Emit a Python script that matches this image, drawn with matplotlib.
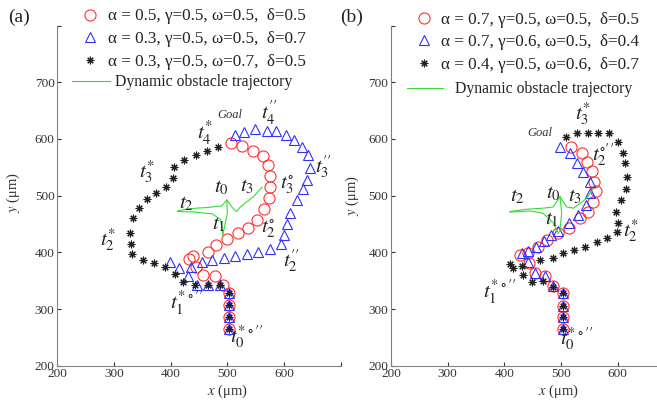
import matplotlib.pyplot as plt
import numpy as np

plt.rcParams['font.family'] = ['Liberation Serif', 'DejaVu Serif']
plt.rcParams['mathtext.fontset'] = 'stix'

# ---- panel (a) paths (um) ----
a_circ_x = [503, 503, 503, 503, 492, 478, 457, 445, 432, 439, 466, 480, 499, 519, 536,
            552, 565, 573, 575, 575, 572, 563, 545, 526, 506]
a_circ_y = [265, 286, 307, 328, 342, 358, 360, 374, 388, 394, 401, 413, 424, 434, 443,
            457, 476, 496, 515, 535, 554, 570, 579, 588, 593]
a_tri_x = [503, 503, 503, 503, 487, 466, 446, 431, 415, 399, 436, 455, 473, 494, 513,
           535, 554, 575, 595, 600, 605, 610, 623, 633, 640, 646, 642, 632, 617, 603,
           586, 570, 549, 529, 513]
a_tri_y = [265, 286, 307, 328, 342, 342, 342, 358, 372, 383, 374, 383, 386, 390, 394,
           397, 401, 406, 415, 431, 450, 469, 492, 512, 528, 549, 572, 586, 598, 607,
           614, 614, 618, 612, 607]
a_ast_x = [503, 503, 503, 503, 487, 466, 443, 422, 408, 390, 371, 351, 332, 330, 328,
           334, 344, 358, 374, 392, 404, 406, 424, 445, 464, 483]
a_ast_y = [265, 286, 307, 328, 342, 342, 342, 348, 362, 374, 381, 386, 397, 415, 434,
           461, 478, 494, 505, 515, 531, 550, 563, 572, 579, 586]
# obstacle tracks (a)
a_obs = [
    ([499, 490, 464, 446, 428, 412], [492, 482, 479, 478, 476, 473]),
    ([412, 443, 473, 488, 492], [472, 471, 468, 458, 431]),
    ([499, 500, 496, 492], [492, 469, 451, 431]),
    ([499, 508, 516, 522, 534, 546, 561], [492, 480, 472, 479, 489, 498, 515]),
]

# ---- panel (b) paths (um) ----
b_circ_x = [503, 503, 503, 503, 486, 472, 454, 443, 428, 442, 459, 475, 495, 514, 533,
            547, 556, 562, 558, 555, 546, 537, 518]
b_circ_y = [265, 286, 305, 328, 341, 358, 364, 381, 395, 399, 409, 422, 434, 443, 461,
            471, 489, 508, 524, 543, 559, 575, 586]
b_tri_x = [503, 503, 503, 503, 486, 472, 454, 442, 431, 442, 456, 470, 482, 495, 514,
           530, 544, 551, 551, 539, 528, 516, 498]
b_tri_y = [265, 286, 305, 328, 341, 358, 364, 383, 399, 402, 409, 420, 431, 438, 452,
           466, 483, 505, 524, 542, 558, 575, 586]
b_ast_x = [503, 503, 503, 503, 486, 468, 449, 433, 415, 410, 431, 463, 486, 503, 523,
           542, 563, 581, 599, 600, 597, 606, 615, 616, 613, 609, 600, 585, 565, 547,
           528, 509]
b_ast_y = [265, 286, 305, 328, 339, 349, 348, 360, 372, 379, 376, 386, 390, 399, 404,
           409, 418, 425, 436, 452, 471, 492, 512, 533, 558, 575, 595, 610, 610, 610,
           610, 603]
b_obs = [
    ([498, 486, 469, 439, 410], [498, 480, 478, 476, 472]),
    ([410, 445, 468, 486, 495], [471, 473, 469, 452, 434]),
    ([498, 501, 498, 495], [498, 469, 439, 434]),
    ([498, 510, 522, 533, 545, 557], [498, 480, 478, 486, 495, 513]),
]

a_labels = ['α = 0.5, γ=0.5, ω=0.5,  δ=0.5',
            'α = 0.3, γ=0.5, ω=0.5,  δ=0.7',
            'α = 0.3, γ=0.5, ω=0.7,  δ=0.5']
b_labels = ['α = 0.7, γ=0.5, ω=0.5,  δ=0.5',
            'α = 0.7, γ=0.6, ω=0.5,  δ=0.4',
            'α = 0.4, γ=0.5, ω=0.6,  δ=0.7']

# time labels: (x, y, text)
a_notes = [(490, 513, r'$t_\mathit{0}$'), (534, 515, r'$t_\mathit{3}$'),
           (428, 486, r'$t_\mathit{2}$'), (484, 448, r'$t_\mathit{1}$'),
           (605, 519, r'$t_\mathit{3}^{\circ}$'), (572, 442, r'$t_\mathit{2}^{\circ}$'),
           (613, 386, r'$t_\mathit{2}^{\prime\prime}$'), (669, 551, r'$t_\mathit{3}^{\prime\prime}$'),
           (575, 645, r'$t_\mathit{4}^{\prime\prime}$'), (460, 610, r'$t_\mathit{4}^{*}$'),
           (358, 542, r'$t_\mathit{3}^{*}$'), (290, 422, r'$t_\mathit{2}^{*}$'),
           (428, 310, r'$t_\mathit{1}^{*\circ\prime\prime}$'),
           (534, 251, r'$t_\mathit{0}^{*\circ\prime\prime}$')]
a_goal = (505, 642)
b_notes = [(486, 504, r'$t_\mathit{0}$'), (524, 498, r'$t_\mathit{3}$'),
           (422, 498, r'$t_\mathit{2}$'), (483, 457, r'$t_\mathit{1}$'),
           (539, 645, r'$t_\mathit{3}^{*}$'), (574, 572, r'$t_\mathit{2}^{\circ\prime\prime}$'),
           (624, 439, r'$t_\mathit{2}^{*}$'),
           (392, 330, r'$t_\mathit{1}^{*\circ\prime\prime}$'),
           (527, 248, r'$t_\mathit{0}^{*\circ\prime\prime}$')]
b_goal = (463, 610)

W, H = 657, 404
fig = plt.figure(figsize=(W / 100, H / 100), dpi=100)
ax_a = fig.add_axes([57.3 / W, 38.3 / H, 283.5 / W, 340.1 / H])
ax_b = fig.add_axes([391 / W, 38.3 / H, 283.5 / W, 340.1 / H])

ast = (8, 2, 0)


def draw(ax, cx, cy, tx, ty, sx, sy, obs, notes, goal):
    h1, = ax.plot(cx, cy, 'o', ms=8, mfc='none', mec='#ff3030', mew=0.8, ls='none')
    h2, = ax.plot(tx, ty, '^', ms=7, mfc='none', mec='#3030ff', mew=0.8, ls='none')
    h3, = ax.plot(sx, sy, marker=ast, ms=5.5, color='#202020', mew=0.8, ls='none')
    for ox, oy in obs:
        h4, = ax.plot(ox, oy, color='#33dd33', lw=0.8)
    for x, y, s in notes:
        ax.text(x, y, s, fontsize=15, ha='center', va='center', color='#222222')
    ax.text(goal[0], goal[1], 'Goal', fontsize=9, style='italic', ha='center',
            va='center', color='#333333')
    ax.set_xlim(200, 700)
    ax.set_ylim(200, 800)
    ax.set_xticks(np.arange(200, 701, 100))
    ax.set_xticklabels(['200', '300', '400', '500', '600', ''])
    ax.set_yticks(np.arange(200, 801, 100))
    ax.set_yticklabels(['200', '300', '400', '500', '600', '700', ''])
    ax.tick_params(direction='in', length=3, labelsize=9.5, colors='#333333',
                   pad=2)
    for sp in ['top', 'right']:
        ax.spines[sp].set_visible(False)
    for sp in ['left', 'bottom']:
        ax.spines[sp].set_color('#808080')
    ax.set_xlabel(r'$x$ (μm)', fontsize=10.5, color='#333333')
    ax.set_ylabel(r'$y$ (μm)', fontsize=10.5, color='#333333')
    return [h1, h2, h3], h4


hs_a, g_a = draw(ax_a, a_circ_x, a_circ_y, a_tri_x, a_tri_y, a_ast_x, a_ast_y,
                 a_obs, a_notes, a_goal)
hs_b, g_b = draw(ax_b, b_circ_x, b_circ_y, b_tri_x, b_tri_y, b_ast_x, b_ast_y,
                 b_obs, b_notes, b_goal)
ax_a.xaxis.set_label_coords(0.60, -0.05)
ax_b.xaxis.set_label_coords(0.59, -0.05)
ax_a.yaxis.set_label_coords(-0.125, 0.51)
ax_b.yaxis.set_label_coords(-0.106, 0.50)

leg_kw = dict(frameon=False, loc='upper left', borderpad=0,
              borderaxespad=0, bbox_transform=fig.transFigure, labelcolor='#222222')
l1 = ax_a.legend(hs_a, a_labels, fontsize=12.3, handlelength=1, handletextpad=0.55,
                 labelspacing=0.4, bbox_to_anchor=(81.5 / W, 1 - 8.5 / H), **leg_kw)
ax_a.add_artist(l1)
ax_a.legend([g_a], ['Dynamic obstacle trajectory'], fontsize=11.3, handlelength=2.42,
            handletextpad=0.32, bbox_to_anchor=(72 / W, 1 - 74.5 / H), **leg_kw)
l2 = ax_b.legend(hs_b, b_labels, fontsize=12.3, handlelength=1, handletextpad=0.5,
                 labelspacing=0.4, bbox_to_anchor=(415.5 / W, 1 - 11.5 / H), **leg_kw)
ax_b.add_artist(l2)
ax_b.legend([g_b], ['Dynamic obstacle trajectory'], fontsize=11.3, handlelength=2.29,
            handletextpad=0.76, bbox_to_anchor=(407 / W, 1 - 81.3 / H), **leg_kw)

fig.text(8 / W, 1 - 17 / H, '(a)', fontsize=14, va='center', color='#222222')
fig.text(340 / W, 1 - 17 / H, '(b)', fontsize=14, va='center', color='#222222')

fig.savefig('out.png', dpi=100)
